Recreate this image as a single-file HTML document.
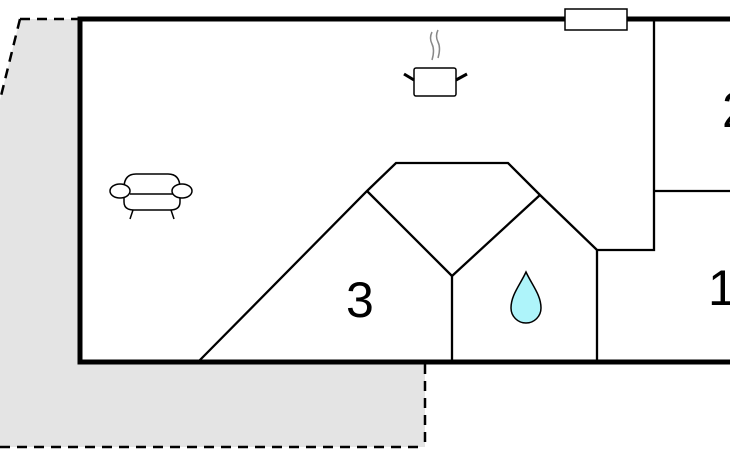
<!DOCTYPE html>
<html><head><style>html,body{margin:0;padding:0;background:#fff;width:730px;height:450px;overflow:hidden}</style></head>
<body>
<svg width="730" height="450" viewBox="0 0 730 450" xmlns="http://www.w3.org/2000/svg">
<polygon points="20,19 80,19 80,362 425,362 425,447 0,447 0,100" fill="#e4e4e4"/>
<g stroke="#000" stroke-width="2.5" stroke-dasharray="10,7" fill="none">
<line x1="20" y1="19" x2="80" y2="19"/>
<line x1="20" y1="19" x2="0" y2="100"/>
<line x1="425" y1="364" x2="425" y2="447"/>
<line x1="0" y1="447" x2="425" y2="447"/>
</g>
<rect x="80" y="19" width="660" height="343" fill="#fff" stroke="#000" stroke-width="5"/>
<g stroke="#000" stroke-width="2.3" fill="none">
<polyline points="198,362 367,191 396,163 508,163 540,195 597,250 654,250 654,19"/>
<line x1="654" y1="191" x2="730" y2="191"/>
<polyline points="367,191 452,276 540,195"/>
<line x1="452" y1="276" x2="452" y2="362"/>
<line x1="597" y1="250" x2="597" y2="362"/>
</g>
<rect x="565" y="9" width="62" height="21" fill="#fff" stroke="#000" stroke-width="1.5"/>
<g stroke="#000" fill="none">
<rect x="414" y="68" width="42" height="28" rx="2" fill="#fff" stroke-width="1.5"/>
<line x1="404" y1="74" x2="414" y2="80" stroke-width="3"/>
<line x1="456" y1="80" x2="467" y2="74" stroke-width="3"/>
<path d="M432,32 q-3,6 0,12 q3,6 0,16" stroke="#888" stroke-width="1.5"/>
<path d="M438,30 q-3,6 0,12 q3,6 0,16" stroke="#888" stroke-width="1.5"/>
</g>
<g stroke="#000" stroke-width="1.5" fill="#fff">
<path d="M124,188 q0,-14 12,-14 h32 q12,0 12,14 v14 q0,8 -10,8 h-36 q-10,0 -10,-8 z"/>
<line x1="130" y1="194" x2="176" y2="194"/>
<ellipse cx="120" cy="191" rx="10" ry="7"/>
<ellipse cx="182" cy="191" rx="10" ry="7"/>
<line x1="133" y1="210" x2="130" y2="219"/>
<line x1="171" y1="210" x2="174" y2="219"/>
</g>
<path d="M526,272 C520,285 511,295 511,308 A15,15 0 0 0 541,308 C541,295 532,285 526,272 Z" fill="#aef4fa" stroke="#000" stroke-width="1.5"/>
<g font-family="Liberation Sans, sans-serif" font-size="50" fill="#000">
<text x="346" y="317">3</text>
<text x="708" y="305">1</text>
<text x="722" y="127">2</text>
</g>
</svg>
</body></html>
